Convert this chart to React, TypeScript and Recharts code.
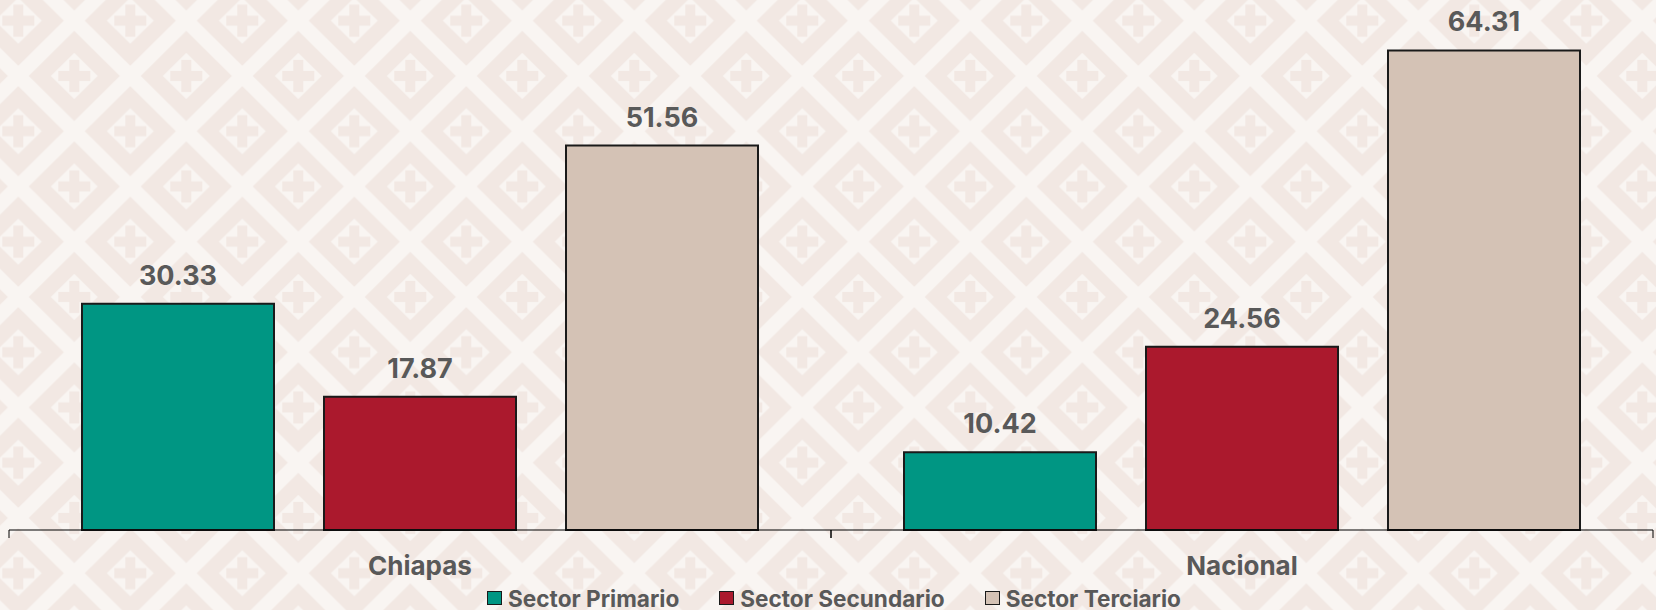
import React from 'react';
import { BarChart, Bar, XAxis, YAxis, LabelList, Legend } from 'recharts';

const categories = ['Chiapas', 'Nacional'];
const sectorPrimario = [30.33, 10.42];
const sectorSecundario = [17.87, 24.56];
const sectorTerciario = [51.56, 64.31];
const seriesNames = ['Sector Primario', 'Sector Secundario', 'Sector Terciario'];
const valueDomain = [0, 70];

const data = categories.map((name, i) => ({
  name,
  primario: sectorPrimario[i],
  secundario: sectorSecundario[i],
  terciario: sectorTerciario[i],
}));

const TEXT = '#595959';
const FONT = 'Inter, "Noto Sans", sans-serif';
const PINK = '#f2e8e3';
const LIGHT = '#f9f5f2';

const TW = 112;
const TH = 110.5;

const TICK_SIZE = 6;
const TICK_MARGIN = 21;
const BOUNDARY_TICK = 8;

const Motif = ({ cx, cy }: { cx: number; cy: number }) => {
  const r1x = 45.5, r1y = 45;
  const r2x = 23.5, r2y = 23.2;
  const arm = 16, th = 5;
  return (
    <g>
      <polygon points={`${cx - r1x},${cy} ${cx},${cy - r1y} ${cx + r1x},${cy} ${cx},${cy + r1y}`} fill={PINK} />
      <polygon points={`${cx - r2x},${cy} ${cx},${cy - r2y} ${cx + r2x},${cy} ${cx},${cy + r2y}`} fill={LIGHT} />
      <rect x={cx - arm} y={cy - th} width={arm * 2} height={th * 2} fill={PINK} />
      <rect x={cx - th} y={cy - arm} width={th * 2} height={arm * 2} fill={PINK} />
    </g>
  );
};

const Background = () => (
  <svg width={1656} height={610} style={{ position: 'absolute', left: 0, top: 0 }}>
    <defs>
      <pattern id="bgpat" patternUnits="userSpaceOnUse" x={18.3 - TW / 2} y={20.7 - TH / 2} width={TW} height={TH}>
        <rect x={0} y={0} width={TW} height={TH} fill={LIGHT} />
        <Motif cx={TW / 2} cy={TH / 2} />
        <Motif cx={0} cy={0} />
        <Motif cx={TW} cy={0} />
        <Motif cx={0} cy={TH} />
        <Motif cx={TW} cy={TH} />
      </pattern>
    </defs>
    <rect x={0} y={0} width={1656} height={610} fill="url(#bgpat)" />
  </svg>
);

const CategoryTick = (props: any) => {
  const { x, y, payload } = props;
  const half = payload && typeof payload.offset === 'number' ? payload.offset : 0;
  const axisY = y - TICK_SIZE - TICK_MARGIN;
  return (
    <g>
      <line x1={x - half} x2={x - half} y1={axisY} y2={axisY + BOUNDARY_TICK} stroke="#000" strokeWidth={1} />
      <line x1={x + half} x2={x + half} y1={axisY} y2={axisY + BOUNDARY_TICK} stroke="#000" strokeWidth={1} />
      <text
        x={x}
        y={y}
        dy="0.71em"
        textAnchor="middle"
        fontFamily={FONT}
        fontWeight={700}
        fontSize={26}
        fill={TEXT}
      >
        {payload.value}
      </text>
    </g>
  );
};

const renderLegend = (props: any) => {
  const payload = props.payload || [];
  return (
    <div
      style={{
        display: 'flex',
        justifyContent: 'center',
        alignItems: 'center',
        height: 28,
        gap: 40,
        fontFamily: FONT,
        fontWeight: 700,
        fontSize: 22.6,
        color: TEXT,
        paddingLeft: 6,
      }}
    >
      {payload.map((entry: any) => (
        <div key={entry.value} style={{ display: 'flex', alignItems: 'center' }}>
          <span
            style={{
              display: 'inline-block',
              width: 15,
              height: 14,
              boxSizing: 'border-box',
              background: entry.color,
              border: '1.5px solid #1a1a1a',
              marginRight: 6,
            }}
          />
          <span style={{ lineHeight: 'normal' }}>{entry.value}</span>
        </div>
      ))}
    </div>
  );
};

const labelStyle = { fontFamily: FONT, fontWeight: 700, fontSize: 27, fill: TEXT };

export default function App() {
  return (
    <div style={{ position: 'absolute', left: 0, top: 0, width: 1656, height: 610, overflow: 'hidden' }}>
      <Background />
      <div style={{ position: 'absolute', left: 0, top: 0 }}>
        <BarChart
          width={1656}
          height={610}
          data={data}
          margin={{ top: 8, right: 3, bottom: 0, left: 9 }}
          barCategoryGap={73}
          barGap={50}
        >
          <XAxis
            dataKey="name"
            height={52}
            axisLine={{ stroke: '#000', strokeWidth: 1 }}
            tickLine={false}
            tickSize={TICK_SIZE}
            tickMargin={TICK_MARGIN}
            interval={0}
            tick={<CategoryTick />}
          />
          <YAxis hide domain={valueDomain} />
          <Legend verticalAlign="bottom" content={renderLegend} wrapperStyle={{ bottom: -2 }} />
          <Bar dataKey="primario" name={seriesNames[0]} fill="#009683" stroke="#1a1a1a" strokeWidth={2} isAnimationActive={false}>
            <LabelList dataKey="primario" position="top" offset={19} style={labelStyle} />
          </Bar>
          <Bar dataKey="secundario" name={seriesNames[1]} fill="#ab192d" stroke="#1a1a1a" strokeWidth={2} isAnimationActive={false}>
            <LabelList dataKey="secundario" position="top" offset={19} style={labelStyle} />
          </Bar>
          <Bar dataKey="terciario" name={seriesNames[2]} fill="#d4c2b5" stroke="#1a1a1a" strokeWidth={2} isAnimationActive={false}>
            <LabelList dataKey="terciario" position="top" offset={19} style={labelStyle} />
          </Bar>
        </BarChart>
      </div>
    </div>
  );
}
